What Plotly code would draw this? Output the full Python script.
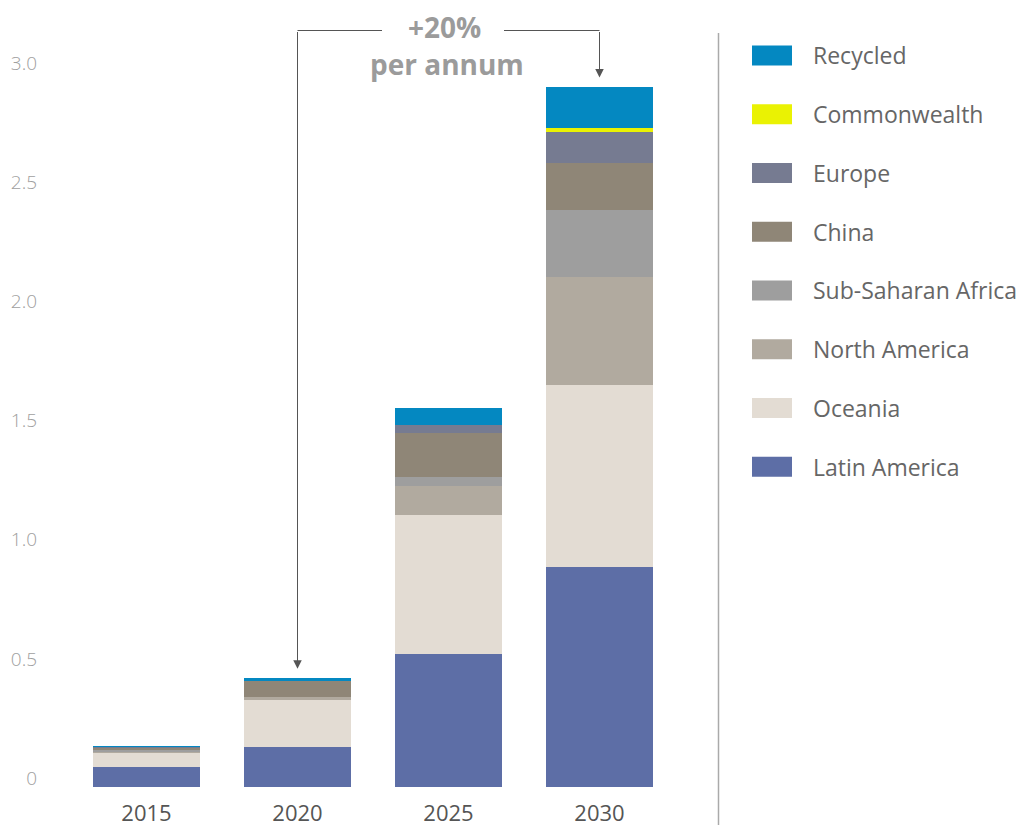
import plotly.graph_objects as go

years = ["2015", "2020", "2025", "2030"]

latin_america = [0.084, 0.168, 0.559, 0.924]
oceania = [0.060, 0.200, 0.584, 0.765]
north_america = [0.006, 0.008, 0.122, 0.450]
sub_saharan_africa = [0.004, 0.000, 0.034, 0.282]
china = [0.010, 0.067, 0.185, 0.197]
europe = [0.004, 0.000, 0.034, 0.130]
commonwealth = [0.000, 0.000, 0.000, 0.017]
recycled = [0.004, 0.013, 0.071, 0.172]

series_names = ["Latin America", "Oceania", "North America", "Sub-Saharan Africa",
                "China", "Europe", "Commonwealth", "Recycled"]
series_values = [latin_america, oceania, north_america, sub_saharan_africa,
                 china, europe, commonwealth, recycled]
series_colors = ["#5d6ea6", "#e3dcd3", "#b1aa9f", "#9e9e9e",
                 "#8f8677", "#767b91", "#eaf203", "#0488c1"]

y_tick_vals = [0, 0.5, 1.0, 1.5, 2.0, 2.5, 3.0]
y_tick_text = ["0", "0.5", "1.0", "1.5", "2.0", "2.5", "3.0"]

annot_line1 = "+20%"
annot_line2 = "per annum"

# ---- layout geometry (pixels) ----
W, H = 1021, 830
L, R_, T, B = 71, 675, 10, 787
PX_PER_UNIT = 238.3
y_max = (B - T) / PX_PER_UNIT

def pxx(px):
    return (px - L) / (R_ - L)

def pxy(py):
    return (B - py) / (B - T)

def cat_x(px):
    return (px - L) / ((R_ - L) / len(years)) - 0.5

FONT = "Open Sans"

fig = go.Figure()
for name, vals, col in zip(series_names, series_values, series_colors):
    fig.add_trace(go.Bar(
        x=years, y=vals, name=name,
        marker=dict(color=col, line=dict(width=0)),
        showlegend=False,
    ))

totals = [sum(v[i] for v in series_values) for i in range(len(years))]

shapes = []
annotations = []

# custom legend (top item = Recycled)
for i, (name, col) in enumerate(zip(reversed(series_names), reversed(series_colors))):
    cy = 55.5 + 58.75 * i
    shapes.append(dict(type="rect", xref="paper", yref="paper",
                       x0=pxx(752), x1=pxx(792), y0=pxy(cy + 10), y1=pxy(cy - 10),
                       fillcolor=col, line=dict(width=0)))
    annotations.append(dict(xref="paper", yref="paper", x=pxx(811), y=pxy(cy),
                            text=name, showarrow=False, xanchor="left", yanchor="middle",
                            font=dict(family=FONT, size=23, color="#666666")))

# divider line
shapes.append(dict(type="line", xref="paper", yref="paper",
                   x0=pxx(718.5), x1=pxx(718.5), y0=pxy(33), y1=pxy(825),
                   line=dict(color="#aaaaaa", width=1.5)))

# bracket lines
top_y = (B - 30.5) / PX_PER_UNIT
shapes.append(dict(type="line", xref="x", yref="y", x0=1, x1=cat_x(382),
                   y0=top_y, y1=top_y, line=dict(color="#555555", width=1)))
shapes.append(dict(type="line", xref="x", yref="y", x0=cat_x(504), x1=3,
                   y0=top_y, y1=top_y, line=dict(color="#555555", width=1)))

for idx in (1, 3):
    annotations.append(dict(xref="x", yref="y", x=idx, y=totals[idx] + 0.04,
                            ax=idx, ay=top_y, axref="x", ayref="y",
                            showarrow=True, arrowhead=2, arrowsize=1.7,
                            arrowwidth=1, arrowcolor="#555555", text=""))

annotations.append(dict(xref="x", yref="paper", x=cat_x(444), y=pxy(27), text="<b>" + annot_line1 + "</b>",
                        showarrow=False, xanchor="center", yanchor="middle",
                        font=dict(family=FONT, size=28, color="#9b9b9b")))
annotations.append(dict(xref="x", yref="paper", x=cat_x(447), y=pxy(64), text="<b>" + annot_line2 + "</b>",
                        showarrow=False, xanchor="center", yanchor="middle",
                        font=dict(family=FONT, size=28, color="#9b9b9b")))

fig.update_layout(
    width=W, height=H,
    margin=dict(l=L, r=W - R_, t=T, b=H - B, pad=0),
    barmode="stack",
    bargap=0.29,
    plot_bgcolor="white", paper_bgcolor="white",
    shapes=shapes, annotations=annotations,
    showlegend=False,
    xaxis=dict(showgrid=False, zeroline=False, showline=False, ticks="",
               tickfont=dict(family=FONT, size=22, color="#555555"),
               ticklabelstandoff=11, fixedrange=True, automargin=False),
    yaxis=dict(range=[0, y_max], showgrid=False, zeroline=False, showline=False,
               tickvals=y_tick_vals, ticktext=y_tick_text, ticks="",
               tickfont=dict(family=FONT, size=19, color="#a0a0a0", weight=300),
               ticklabelstandoff=33, ticklabelshift=-9, fixedrange=True,
               automargin=False),
)

fig.write_html("out.html")
